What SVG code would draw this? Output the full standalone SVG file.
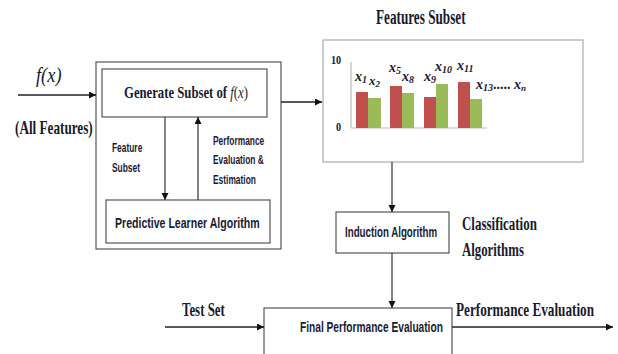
<svg xmlns="http://www.w3.org/2000/svg" width="618" height="354" viewBox="0 0 618 354">
<defs>
<marker id="ah" markerUnits="userSpaceOnUse" markerWidth="8" markerHeight="8" refX="7" refY="3.5" orient="auto">
<path d="M0,0 L7,3.5 L0,7 z" fill="#111"/>
</marker>
<style>
.box{fill:#fff;stroke:#555;stroke-width:1.2}
.cbox{fill:#fff;stroke:#aaa;stroke-width:1.2}
.ln{stroke:#222;stroke-width:1.5;fill:none}
.lnt{stroke:#333;stroke-width:1.2;fill:none}
.serif{font-family:"Liberation Serif",serif;font-weight:bold;fill:#1a1a2e}
.sans{font-family:"Liberation Sans",sans-serif;font-weight:bold;fill:#1a1a33}
.mx{font-family:"Liberation Serif",serif;font-weight:bold;font-style:italic;fill:#1a1a2e}
.fx{font-family:"Liberation Serif",serif;font-weight:normal;font-style:italic;fill:#1a1a2e}
.red{fill:#c0504d}
.grn{fill:#9bbb59}
.ax{stroke:#bbb;stroke-width:1.2}
</style>
</defs>
<rect width="618" height="354" fill="#fff"/>

<g id="outer">
<rect class="box" x="96" y="62" width="185" height="187"/>
</g>
<g id="generate">
<rect class="box" x="102" y="69" width="165" height="48"/>
<text class="serif" transform="translate(124,98) scale(0.748,1)" font-size="17">Generate Subset of <tspan font-style="italic" font-weight="normal">f</tspan><tspan font-weight="normal">(</tspan><tspan font-style="italic" font-weight="normal">x</tspan><tspan font-weight="normal">)</tspan></text>
</g>
<g id="predictive">
<rect class="box" x="106" y="200" width="164" height="43"/>
<text class="sans" transform="translate(115,228) scale(0.682,1)" font-size="15.5">Predictive Learner Algorithm</text>
</g>
<g id="chart">
<rect class="cbox" x="323" y="40" width="260" height="122"/>
<line class="ax" x1="351" y1="62" x2="351" y2="128"/>
<line class="ax" x1="351" y1="128" x2="487" y2="128"/>
<text class="serif" transform="translate(331,64) scale(0.85,1)" font-size="12">10</text>
<text class="serif" transform="translate(336,131) scale(0.85,1)" font-size="12">0</text>
<rect class="red" x="356" y="92" width="12" height="36"/>
<rect class="grn" x="368" y="98" width="13" height="30"/>
<rect class="red" x="390" y="86" width="12" height="42"/>
<rect class="grn" x="402" y="93" width="12" height="35"/>
<rect class="red" x="424" y="97" width="12" height="31"/>
<rect class="grn" x="436" y="84" width="12" height="44"/>
<rect class="red" x="458" y="82" width="12" height="46"/>
<rect class="grn" x="470" y="99" width="12" height="29"/>
<text class="mx" x="355" y="81" font-size="14">x<tspan font-size="10" dy="2">1</tspan></text>
<text class="mx" x="369" y="85" font-size="13">x<tspan font-size="9" dy="2">2</tspan></text>
<text class="mx" x="389" y="72" font-size="14">x<tspan font-size="10" dy="2">5</tspan></text>
<text class="mx" x="402" y="81" font-size="14">x<tspan font-size="10" dy="2">8</tspan></text>
<text class="mx" x="424" y="81" font-size="14">x<tspan font-size="10" dy="2">9</tspan></text>
<text class="mx" x="435" y="71" font-size="14">x<tspan font-size="10" dy="2">10</tspan></text>
<text class="mx" x="457" y="70" font-size="14">x<tspan font-size="10" dy="2">11</tspan></text>
<text class="mx" x="476" y="89" font-size="14">x<tspan font-size="10" dy="2">13</tspan><tspan dy="-2" font-style="normal">.....</tspan> x<tspan font-size="9" dy="2">n</tspan></text>
</g>
<g id="induction">
<rect class="box" x="336" y="212" width="113" height="41"/>
<text class="sans" transform="translate(345,237) scale(0.65,1)" font-size="15">Induction Algorithm</text>
</g>
<g id="final">
<rect class="box" x="264" y="308" width="188" height="60"/>
<text class="sans" transform="translate(300,332) scale(0.727,1)" font-size="14">Final Performance Evaluation</text>
</g>

<g id="labels">
<text class="fx" transform="translate(36,82) scale(0.92,1)" font-size="20">f(x)</text>
<text class="serif" transform="translate(15,134) scale(0.694,1)" font-size="19">(All Features)</text>
<text class="serif" transform="translate(376,24) scale(0.66,1)" font-size="20">Features Subset</text>
<text class="sans" transform="translate(112,152) scale(0.7,1)" font-size="12">Feature</text>
<text class="sans" transform="translate(112,172) scale(0.7,1)" font-size="12">Subset</text>
<text class="sans" transform="translate(213,145) scale(0.7,1)" font-size="12">Performance</text>
<text class="sans" transform="translate(213,164) scale(0.7,1)" font-size="12">Evaluation &amp;</text>
<text class="sans" transform="translate(213,184) scale(0.7,1)" font-size="12">Estimation</text>
<text class="serif" transform="translate(462,230) scale(0.683,1)" font-size="19">Classification</text>
<text class="serif" transform="translate(462,256) scale(0.675,1)" font-size="19">Algorithms</text>
<text class="serif" transform="translate(182,316) scale(0.678,1)" font-size="19">Test Set</text>
<text class="serif" transform="translate(456,316) scale(0.694,1)" font-size="19">Performance Evaluation</text>
</g>

<g id="connectors">
<line class="ln" x1="18" y1="95" x2="96" y2="95" marker-end="url(#ah)"/>
<line class="lnt" x1="165" y1="117" x2="165" y2="200" marker-end="url(#ah)"/>
<line class="lnt" x1="198" y1="200" x2="198" y2="117" marker-end="url(#ah)"/>
<line class="ln" x1="281" y1="102" x2="322" y2="102" marker-end="url(#ah)"/>
<line class="lnt" x1="392" y1="162" x2="392" y2="212" marker-end="url(#ah)"/>
<line class="lnt" x1="392" y1="253" x2="392" y2="308" marker-end="url(#ah)"/>
<line class="ln" x1="165" y1="327" x2="264" y2="327" marker-end="url(#ah)"/>
<line class="ln" x1="452" y1="327" x2="613" y2="327" marker-end="url(#ah)"/>
</g>
</svg>
